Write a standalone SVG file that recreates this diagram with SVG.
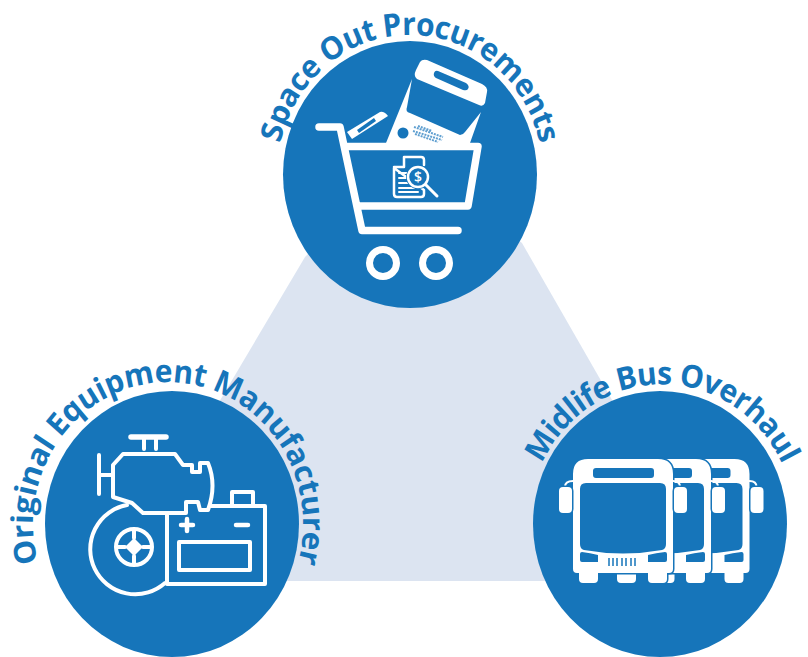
<svg xmlns="http://www.w3.org/2000/svg" xmlns:xlink="http://www.w3.org/1999/xlink" width="808" height="657" viewBox="0 0 808 657">
<style>
.disc{fill:#1675ba}
.lbl{font-family:"Open Sans","Noto Sans","Liberation Sans",sans-serif;font-weight:700;font-size:30px;fill:#1675ba;text-anchor:middle}
.ln{fill:none;stroke:#fff;stroke-linecap:round;stroke-linejoin:round}
.w{fill:#fff}
.b{fill:#1675ba}
.o{fill:#fff;stroke:#1675ba;stroke-width:3;paint-order:stroke}
</style>
<defs>
<path id="arcTop" d="M410 307.500A133 133 0 1 1 410 41.500A133 133 0 1 1 410 307.500"/>
<path id="arcLeft" d="M168 659A135 135 0 1 1 168 389A135 135 0 1 1 168 659"/>
<path id="arcRight" d="M662 657A133 133 0 1 1 662 391A133 133 0 1 1 662 657"/>
<g id="bus">
<path class="o" d="M573 474q0-15 15-15h70q15 0 15 15v95q0 4-4 4h-2v6q0 4-4 4h-11q-4 0-4-4v-6h-50v6q0 4-4 4h-11q-4 0-4-4v-6h-2q-4 0-4-4z"/>
<path class="b" d="M586 483h74q6 0 6 6v55q0 5-4 6q-39 7-78 0q-4-1-4-6v-55q0-6 6-6zM596 468h55q3 0 3 3v4q0 3-3 3h-55q-3 0-3-3v-4q0-3 3-3zM582 552q8 1 16 3v7h-16q-2 0-2-2v-6q0-2 2-2zM665 552q-9 1-17 3v7h17q2 0 2-2v-6q0-2-2-2z"/>
<path class="ln" stroke-width="2" d="M565 487q0-6 8-6M680 487q0-6-7-6"/>
<rect class="o" x="559" y="487" width="13" height="26" rx="4"/>
<rect class="o" x="674" y="487" width="13" height="26" rx="4"/>
</g>
</defs>
<polygon points="113,581 305,257 410,150 522,243 716,581" fill="#dce4f1"/>
<g id="connectors"/>

<g id="node-top">
<ellipse class="disc" cx="410" cy="174.500" rx="127" ry="133.500"/>
<path class="ln" stroke-width="7.500" d="M319 127H340L362 230.500H458M348 146.500H478L468 206H360"/>
<circle class="ln" cx="383" cy="263" r="13.500" stroke-width="7"/>
<circle class="ln" cx="436" cy="263" r="13.500" stroke-width="7"/>
<path class="w" d="M347 132L380 112Q384 111 388 116L352 139z"/>
<path class="b" d="M357 130L374 118L376 121L359 133z"/>
<path class="w" d="M412 79L407 107Q405 112 410 113L460 135Q463 135 465 132L481 112L470 143H386z"/>
<path class="w" d="M416 70L420 62Q422 59 427 60L482 84Q488 87 487 92L485 103Q483 107 479 105L417 79Q413 76 416 70z"/>
<path class="b" d="M438 71L466 83Q470 86 468 89Q467 91 463 90L436 78Q433 76 434 73Q435 70 438 71z"/>
<circle class="b" cx="403" cy="133" r="5.500"/>
<g stroke="#5f9fd0" stroke-width="2" stroke-dasharray="2 1" fill="none">
<path d="M414 127L443 137M413 131L442 140M415 134L438 142M418 126L432 131"/>
</g>
<path class="ln" stroke-width="2.500" d="M404 157H421Q424 157 424 160V165M424 190V194Q424 197 421 197H397Q394 197 394 194V168ZM404 157V167H394"/>
<path class="ln" stroke-width="2" d="M399 173H409M399 178H408M399 183H409M399 188H414M399 192H418"/>
<circle cx="418" cy="177" r="12" class="b"/>
<circle class="ln" cx="418" cy="177" r="10" stroke-width="2.500"/>
<path class="ln" stroke-width="3" d="M426 185L437 196"/>
<text x="418" y="182" font-family="'Open Sans','Liberation Sans',sans-serif" font-size="14" font-weight="600" fill="#fff" text-anchor="middle">$</text>
<text class="lbl" transform="translate(0 174.500) scale(1 1.05) translate(0 -174.500)" letter-spacing="-.6"><textPath href="#arcTop" xlink:href="#arcTop" startOffset="50%">Space Out Procurements</textPath></text>
</g>

<g id="node-left">
<ellipse class="disc" cx="172" cy="524" rx="127" ry="133"/>
<g class="ln" stroke-width="4">
<path stroke-width="5.500" d="M131 437H166"/>
<path d="M144 438V449M156 438V449M99 455V494M99 475H113"/>
<path d="M113 465L123 454H175L183 465H192V472H200V463H208Q217 485 208 510H200L198 502H186V513H143L132 503L113 497z"/>
<path d="M127 505A45 45 0 1 0 165 583"/>
<circle cx="134" cy="547" r="18"/>
<path d="M134 530V538M134 556V564M117 547H125M143 547H151"/>
<path d="M167 515V584H265V506H210"/>
<path d="M232 505V492H253V505"/>
<path stroke-width="4.500" d="M181 525H193M187 519V531M236 525H248"/>
<rect x="179" y="542" width="71" height="28"/>
</g>
<path class="w" d="M134 538L143 547L134 556L125 547z"/>
<text class="lbl" transform="translate(0 524) scale(1 1.05) translate(0 -524)" letter-spacing="-.3"><textPath href="#arcLeft" xlink:href="#arcLeft" startOffset="50%">Original Equipment Manufacturer</textPath></text>
</g>

<g id="node-right">
<ellipse class="disc" cx="660" cy="524" rx="127" ry="133"/>
<use href="#bus" xlink:href="#bus" x="76.500"/>
<use href="#bus" xlink:href="#bus" x="38"/>
<use href="#bus" xlink:href="#bus"/>
<path d="M609 558V566M613 558V566M617 558V566M622 558V566M626 558V566M631 558V566M635 558V566" stroke="#1675ba" stroke-width="1.500" fill="none"/>
<text class="lbl" transform="translate(0 524) scale(1 1.05) translate(0 -524)" letter-spacing="-.7"><textPath href="#arcRight" xlink:href="#arcRight" startOffset="50%">Midlife Bus Overhaul</textPath></text>
</g>
</svg>
